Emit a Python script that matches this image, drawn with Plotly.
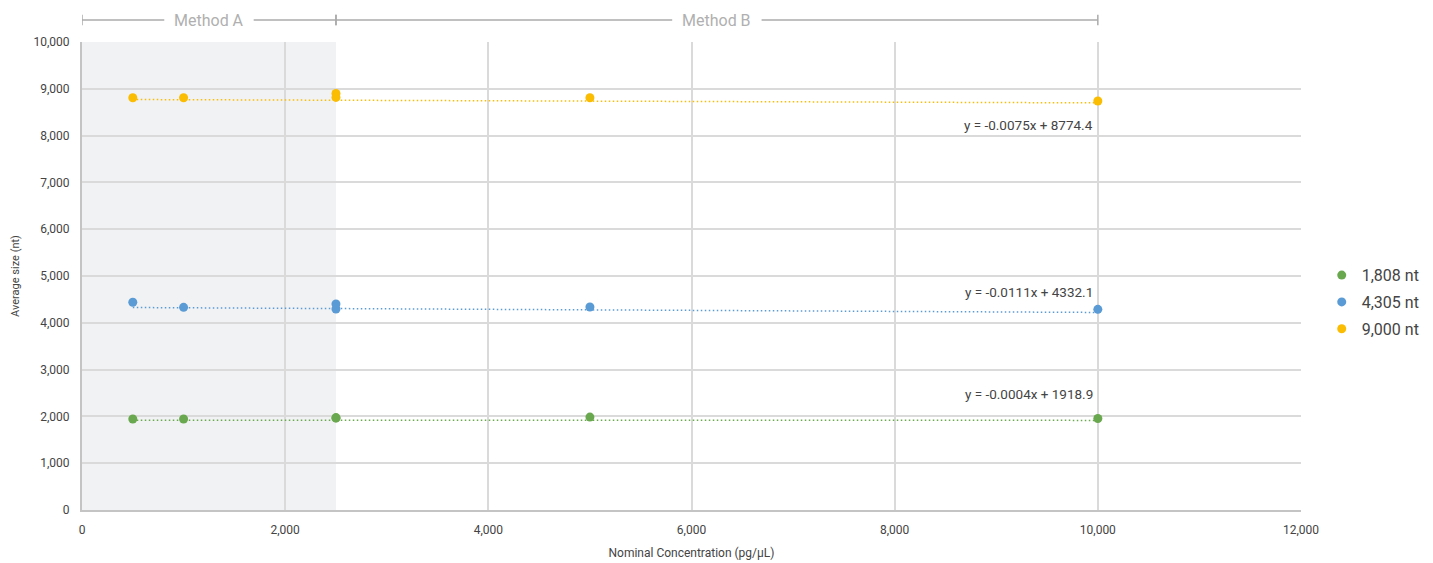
import plotly.graph_objects as go

conc = [500, 1000, 2500, 2500, 5000, 10000]
size_1808 = [1944, 1944, 1962, 1975, 1985, 1955]
size_4305 = [4438, 4331, 4402, 4295, 4338, 4288]
size_9000 = [8808, 8808, 8902, 8816, 8808, 8739]

series_names = ["1,808 nt", "4,305 nt", "9,000 nt"]
series_values = [size_1808, size_4305, size_9000]
colors = ["#6aa84f", "#5b9bd5", "#fbbc04"]
slopes = [-0.0004, -0.0111, -0.0075]
intercepts = [1918.9, 4332.1, 8774.4]
eq_labels = ["y = -0.0004x + 1918.9", "y = -0.0111x + 4332.1", "y = -0.0075x + 8774.4"]
eq_label_y = [2479, 4658, 8226]

x_ticks = [0, 2000, 4000, 6000, 8000, 10000, 12000]
y_ticks = list(range(0, 10001, 1000))

fig = go.Figure()

# trendlines
for i in range(3):
    xs = [min(conc), max(conc)]
    ys = [slopes[i] * x + intercepts[i] for x in xs]
    fig.add_trace(go.Scatter(x=xs, y=ys, mode="lines", showlegend=False,
                             line=dict(color=colors[i], width=1.5, dash="1.5px,2.5px"),
                             hoverinfo="skip"))

for i in range(3):
    fig.add_trace(go.Scatter(x=conc, y=series_values[i], mode="markers", name=series_names[i],
                             legendgroup="g%d" % i,
                             marker=dict(color=colors[i], size=9)))

font_family = "Roboto, Arial, sans-serif"

shapes = [
    dict(type="rect", xref="x", yref="y", x0=0, x1=2500, y0=0, y1=10000,
         fillcolor="#f1f2f4", line=dict(width=0), layer="below"),
]
# method brackets
bracket_y = 1.047
grey = "#ababab"
segments = [(0, 2500, "Method A"), (2500, 10000, "Method B")]
annotations = []
for x0, x1, label in segments:
    mid = (x0 + x1) / 2
    half_gap = 440
    shapes.append(dict(type="line", xref="x", yref="paper", x0=x0, x1=mid - half_gap,
                       y0=bracket_y, y1=bracket_y, line=dict(color=grey, width=1.5)))
    shapes.append(dict(type="line", xref="x", yref="paper", x0=mid + half_gap, x1=x1,
                       y0=bracket_y, y1=bracket_y, line=dict(color=grey, width=1.5)))
    for xe in (x0, x1):
        shapes.append(dict(type="line", xref="x", yref="paper", x0=xe, x1=xe,
                           y0=bracket_y - 0.011, y1=bracket_y + 0.011, line=dict(color=grey, width=1.5)))
    annotations.append(dict(x=mid, y=bracket_y, xref="x", yref="paper", text=label, showarrow=False,
                            font=dict(size=16, color="#b0b0b0", family=font_family),
                            xanchor="center", yanchor="middle"))

for i in range(3):
    annotations.append(dict(x=9970, y=eq_label_y[i], xref="x", yref="y", text=eq_labels[i],
                            showarrow=False, xanchor="right", yanchor="middle",
                            font=dict(size=13.5, color="#444444", family=font_family)))

# page body has an 8px default margin; margins compensate so the plot area sits at 82..1301 x 42..510
fig.update_layout(
    width=1433, height=563,
    margin=dict(l=74, r=140, t=34, b=61, autoexpand=False),
    plot_bgcolor="white", paper_bgcolor="white",
    font=dict(family=font_family, color="#444444", size=12),
    shapes=shapes, annotations=annotations,
    legend=dict(x=1.017, y=0.444, xanchor="left", yanchor="middle",
                font=dict(size=16, color="#444444"), tracegroupgap=3, itemwidth=30),
    xaxis=dict(range=[0, 12000], tickvals=x_ticks, tickformat=",", showgrid=True,
               gridcolor="#dadada", gridwidth=2, zeroline=False, showline=True, automargin=False,
               linecolor="#c4c4c4", linewidth=2, ticks="", ticklabelstandoff=8,
               tickfont=dict(size=12, color="#444444"),
               title=dict(text="Nominal Concentration (pg/μL)", font=dict(size=12, color="#444444"), standoff=12)),
    yaxis=dict(range=[0, 10000], tickvals=y_ticks, tickformat=",", showgrid=True,
               gridcolor="#dadada", gridwidth=2, zeroline=False, showline=True, automargin=False,
               linecolor="#c4c4c4", linewidth=2, ticks="", ticklabelstandoff=8,
               tickfont=dict(size=12, color="#444444"),
               title=dict(text="Average size (nt)", font=dict(size=11, color="#444444"), standoff=12)),
)

fig.write_html("out.html")
